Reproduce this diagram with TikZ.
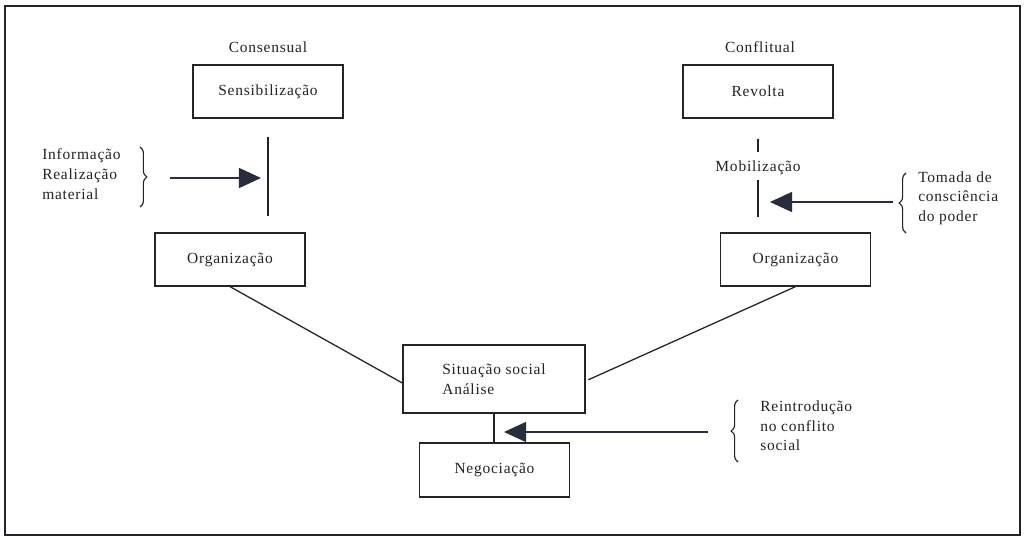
\documentclass[tikz,border=0pt]{standalone}
\usepackage{fontspec}
\setmainfont[LetterSpace=5]{Liberation Serif}
\usepackage{tikz}
\usetikzlibrary{arrows.meta, positioning, calc, decorations.pathreplacing}
\usepackage{xcolor}
\definecolor{ink}{RGB}{35,35,40}
\definecolor{arrowink}{RGB}{40,44,60}

\tikzset{
  box/.style={draw=ink, line width=0.9pt, minimum width=3.75cm, minimum height=1.325cm, inner sep=0pt},
  arr/.style={arrowink, line width=0.9pt, -{Triangle[length=0.55cm, width=0.5cm]}},
  brc/.style={ink, line width=0.8pt, decorate, decoration={brace, amplitude=0.17cm}},
}

\begin{document}
\begin{tikzpicture}[x=0.025cm, y=-0.025cm, font=\fontsize{11}{14}\selectfont, text=ink]
  \useasboundingbox (0,0) rectangle (1026,536);
  \fill[white] (0,0) rectangle (1026,536);
  \draw[ink, line width=1.6pt] (5,6) rectangle (1020,535);
  % Consensual branch
  \node (cons) at (268,47) {Consensual};
  \node[box] (sens) at (268,91.5) {Sensibilização};
  \node[box] (org1) at (230,259.5) {Organização};
  \draw[ink, line width=0.9pt, shorten <=0.45cm, shorten >=0.4cm] (sens.south) -- (sens.south |- org1.north);
  \node[anchor=west, align=left, inner sep=0pt] (info) at (42,174) {Informação\\Realização\\material};
  \draw[brc] (140,147) -- (140,207);
  \coordinate (t1) at (170,178);
  \draw[arr, shorten >=0.175cm] (t1) -- (t1 -| sens.south);
  % Conflitual branch
  \node (confl) at (760,47) {Conflitual};
  \node[box] (revolta) at (758,91.5) {Revolta};
  \node (mob) at (758,168) {Mobilização};
  \node[box] (org2) at (795.5,259.5) {Organização};
  \draw[ink, line width=0.9pt, shorten <=0.5cm, shorten >=0.1cm] (revolta.south) -- (mob.north);
  \draw[ink, line width=0.9pt, shorten >=0.375cm] (mob.south) -- (mob.south |- org2.north);
  \node[anchor=west, align=left, inner sep=0pt] (tomada) at (918,198) {Tomada de\\consciência\\do poder};
  \draw[brc] (906,233) -- (906,173);
  \coordinate (t2) at (893,202);
  \draw[arr, shorten >=0.3cm] (t2) -- (t2 -| mob.south);
  % Situacao social and negociacao
  \node[box, minimum width=4.55cm, minimum height=1.7cm, align=left] (sit) at (494,379) {Situação social\\Análise};
  \node[box, minimum height=1.35cm] (neg) at (494.5,470) {Negociação};
  \draw[ink, line width=0.9pt] (org1.south) -- ([yshift=-0.1cm]sit.west);
  \draw[ink, line width=0.9pt, shorten >=0.075cm] (org2.south) -- ([yshift=-0.05cm]sit.east);
  \draw[ink, line width=0.9pt] (sit.south) -- (sit.south |- neg.north);
  \node[anchor=west, align=left, inner sep=0pt] (reint) at (760,426) {Reintrodução\\no conflito\\social};
  \draw[brc] (738,462) -- (738,400);
  \coordinate (t3) at (708,432);
  \draw[arr, shorten >=0.25cm] (t3) -- (t3 -| sit.south);
\end{tikzpicture}
\end{document}
